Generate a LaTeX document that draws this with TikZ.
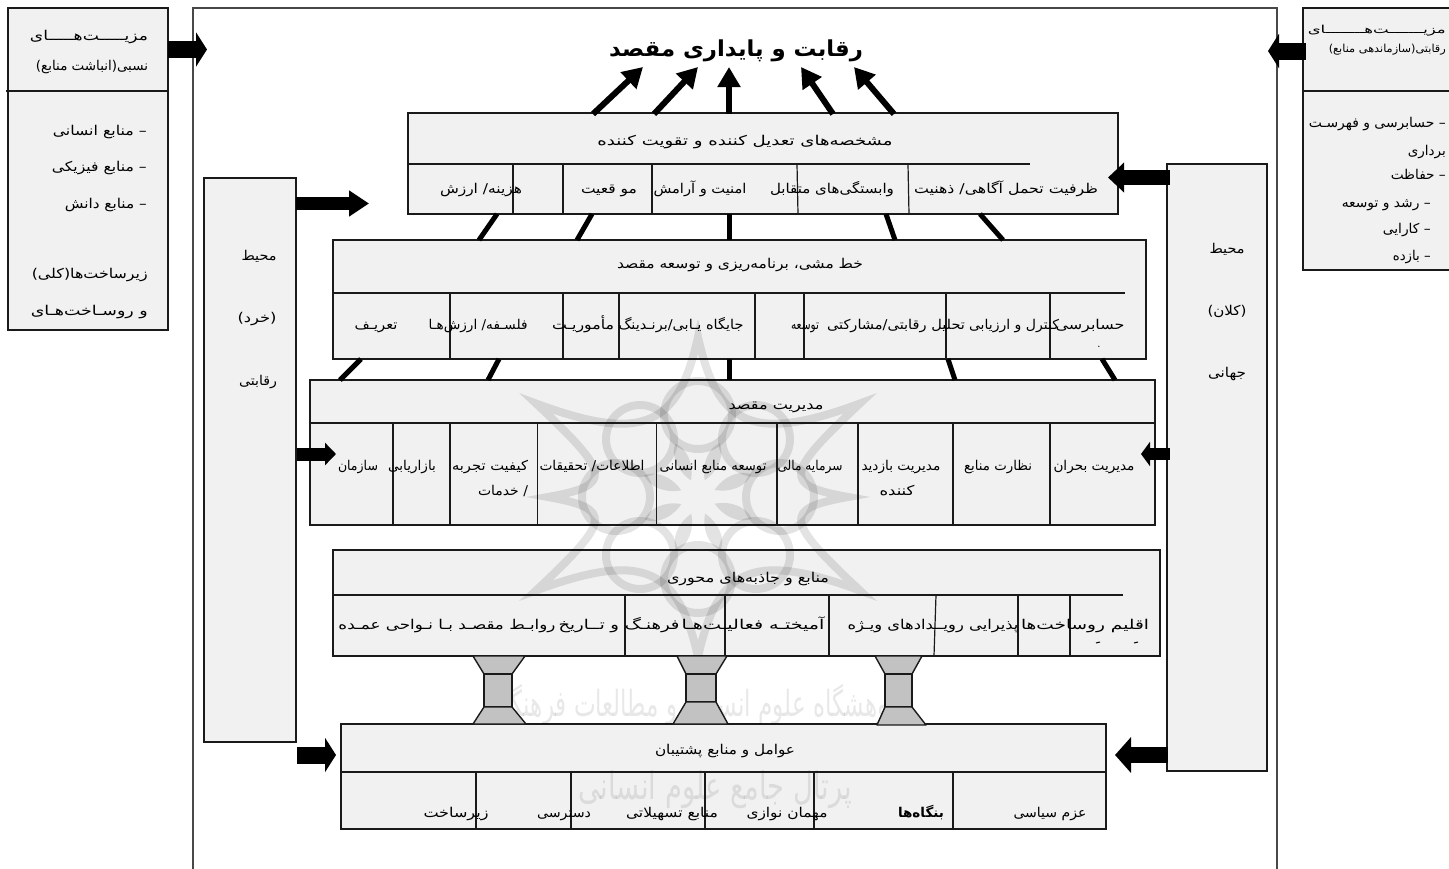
\documentclass[tikz,border=0pt]{standalone}
\usepackage{graphicx}
\usepackage{fontspec}
\usetikzlibrary{arrows.meta}
\TeXXeTstate=1
\newfontfamily\arabicfont[Script=Arabic]{DejaVu Sans}
\newcommand\fit[2]{\resizebox{#1pt}{\height}{#2}}
\newcommand\zn{^^^^200c}
\definecolor{panelfill}{HTML}{F1F1F1}
\definecolor{ink}{HTML}{1A1A1A}
\tikzset{
  panel/.style={draw=ink,line width=1.5pt,fill=panelfill,inner sep=0pt,outer sep=0pt},
  rule/.style={draw=ink,line width=1.5pt},
  col/.style={draw=ink,line width=1.2pt},
  lbl/.style={anchor=base,inner sep=0pt,text=black,font=\fontsize{13.5}{15}\selectfont},
  lblr/.style={anchor=base east,inner sep=0pt,text=black,font=\fontsize{13.5}{15}\selectfont},
  small/.style={font=\fontsize{11}{13}\selectfont},
  link/.style={draw=black,line width=5pt,line cap=butt},
  uparrow/.style={draw=black,line width=6pt,-{Triangle[width=22pt,length=20pt]}},
  blockarrow/.style={draw=black,line width=#1,-{Triangle[width=34pt,length=11pt]}},
  pillar/.style={draw=ink,line width=1.4pt,fill=black!24,line join=round},
}
\begin{document}
\begin{tikzpicture}[x=1pt,y=-1pt]
\path[use as bounding box] (0,0) rectangle (1449,868);
\clip (0,0) rectangle (1449,868);

% frame and panels
\node[draw=ink!80,line width=1.5pt,inner sep=0pt,minimum width=1084pt,minimum height=900pt] (frame) at (735,458) {};
\node[panel,minimum width=160pt,minimum height=322pt] (adv) at (88,169) {};
\node[panel,minimum width=167pt,minimum height=262pt] (comp) at (1386.5,139) {};
\node[panel,minimum width=92pt,minimum height=564pt] (micro) at (250,460) {};
\node[panel,minimum width=100pt,minimum height=607pt] (macro) at (1217,467.5) {};
\node[panel,minimum width=710pt,minimum height=101pt] (A) at (763,163.5) {};
\node[panel,minimum width=813pt,minimum height=119pt] (B) at (739.5,299.5) {};
\node[panel,minimum width=845pt,minimum height=145pt] (C) at (732.5,452.5) {};
\node[panel,minimum width=827pt,minimum height=106pt] (D) at (746.5,603) {};
\node[panel,minimum width=765pt,minimum height=105pt] (E) at (723.5,776.5) {};

% watermark emblem
\begin{scope}[shift={(698,497)},draw=black,opacity=.11,line width=8pt]
  \draw (90:160) .. controls (75:75) and (45:75) .. (30:187)
        .. controls (15:90) and (8:85) .. (0:150)
        .. controls (-8:85) and (-15:90) .. (-30:187)
        .. controls (-45:75) and (-75:75) .. (-90:160)
        .. controls (-105:75) and (-135:75) .. (-150:187)
        .. controls (-165:90) and (-172:85) .. (180:150)
        .. controls (172:85) and (165:90) .. (150:187)
        .. controls (135:75) and (105:75) .. cycle;
  \foreach \a in {0,45,...,315} { \draw (\a:82) circle[radius=34]; }
  \foreach \a in {22,67,...,337} { \fill (\a:18) .. controls (\a+16:34) and (\a+10:50) .. (\a:58) .. controls (\a-10:50) and (\a-16:34) .. (\a:18); }
\end{scope}
\node[opacity=.09,inner sep=0pt,font=\fontsize{36}{38}\selectfont] (wm1) at (700,705) {\scalebox{.64}[1]{\arabicfont\beginR پژوهشگاه علوم انسانی و مطالعات فرهنگی\endR}};
\node[opacity=.09,inner sep=0pt,font=\fontsize{38}{40}\selectfont] (wm2) at (715,790) {\scalebox{.72}[1]{\arabicfont\beginR پرتال جامع علوم انسانی\endR}};

% dividers
\coordinate (advL) at (6,91); \coordinate (advR) at (168,91);
\draw[rule] (advL) -- (advR);
\coordinate (compL) at (1303,91); \coordinate (compR) at (1449,91);
\draw[rule] (compL) -- (compR);
\coordinate (Adl) at (408,164); \coordinate (Adr) at (1030,164);
\draw[rule] (Adl) -- (Adr);
\coordinate (Bdl) at (333,293); \coordinate (Bdr) at (1125,293);
\draw[rule] (Bdl) -- (Bdr);
\coordinate (Cdl) at (310,423); \coordinate (Cdr) at (1155,423);
\draw[rule] (Cdl) -- (Cdr);
\coordinate (Ddl) at (333,595); \coordinate (Ddr) at (1123,595);
\draw[rule] (Ddl) -- (Ddr);
\coordinate (Edl) at (341,772); \coordinate (Edr) at (1106,772);
\draw[rule] (Edl) -- (Edr);

% column lines
\foreach \x/\xx in {513/513,563/563,652/652,797/798,908/909} \draw[col] (\x,164) -- (\xx,214);
\foreach \x in {450,563,619,755,804,946,1050} \draw[col] (\x,293) -- (\x,359);
\foreach \x in {393,450,537.5,656.5,777,858,953,1050} \draw[col] (\x,423) -- (\x,525);
\foreach \x/\xx in {625/625,725/725,829/829,936/934,1018/1018,1070/1070} \draw[col] (\x,595) -- (\xx,656);
\foreach \x in {476,571,705,814,953} \draw[col] (\x,772) -- (\x,829);

% pillars between D and E
\draw[pillar] (473,656) -- (525,656) -- (512,674) -- (484,674) -- cycle;
\draw[pillar] (484,674) rectangle (512,707);
\draw[pillar] (484,707) -- (512,707) -- (526,724) -- (473,724) -- cycle;
\draw[pillar] (677,656) -- (727,656) -- (716,674) -- (686,674) -- cycle;
\draw[pillar] (686,674) rectangle (716,702);
\draw[pillar] (686,702) -- (716,702) -- (728,724) -- (673,724) -- cycle;
\draw[pillar] (875,656) -- (922,656) -- (912,674) -- (885,674) -- cycle;
\draw[pillar] (885,674) rectangle (912,707);
\draw[pillar] (885,707) -- (912,707) -- (926,725) -- (877,725) -- cycle;

% connectors between panels
\coordinate (ab1) at (497,214); \coordinate (ba1) at (479,240);
\coordinate (ab2) at (592,214); \coordinate (ba2) at (577,240);
\coordinate (ab3) at (729,214); \coordinate (ba3) at (729,240);
\coordinate (ab4) at (886,214); \coordinate (ba4) at (895,240);
\coordinate (ab5) at (980,214); \coordinate (ba5) at (1003,240);
\foreach \i in {1,...,5} \draw[link] (ab\i) -- (ba\i);
\coordinate (bc1) at (361,359); \coordinate (cb1) at (340,380);
\coordinate (bc2) at (499,359); \coordinate (cb2) at (488,380);
\coordinate (bc3) at (729,359); \coordinate (cb3) at (729,380);
\coordinate (bc4) at (948,359); \coordinate (cb4) at (955,380);
\coordinate (bc5) at (1102,359); \coordinate (cb5) at (1115,380);
\foreach \i in {1,...,5} \draw[link] (bc\i) -- (cb\i);

% arrows to the title
\node[inner sep=0pt,anchor=base,font=\fontsize{22}{25}\selectfont\bfseries] (title) at (736,56) {\fit{254}{\arabicfont\beginR رقابت و پایداری مقصد\endR}};
\coordinate (t1) at (643,67); \coordinate (a1) at (593,114);
\coordinate (t2) at (698,67); \coordinate (a2) at (654,114);
\coordinate (t3) at (729,67); \coordinate (a3) at (729,114);
\coordinate (t4) at (801,67); \coordinate (a4) at (833,114);
\coordinate (t5) at (854,67); \coordinate (a5) at (894,114);
\foreach \i in {1,...,5} \draw[uparrow] (a\i) -- (t\i);

% block arrows
\coordinate (b1s) at (168,49.5); \coordinate (b1e) at (207,49.5);
\draw[blockarrow=17pt] (b1s) -- (b1e);
\coordinate (b2s) at (1306,51); \coordinate (b2e) at (1268,51);
\draw[blockarrow=17pt] (b2s) -- (b2e);
\coordinate (b3s) at (296,203.5); \coordinate (b3e) at (369,203.5);
\draw[-{Triangle[width=25pt,length=20pt]},line width=13pt] (b3s) -- (b3e);
\coordinate (b4s) at (1170,177.5); \coordinate (b4e) at (1108,177.5);
\draw[-{Triangle[width=29pt,length=16pt]},line width=15pt] (b4s) -- (b4e);
\coordinate (b5s) at (297,454); \coordinate (b5e) at (336,454);
\draw[-{Triangle[width=22pt,length=11pt]},line width=13pt] (b5s) -- (b5e);
\coordinate (b6s) at (1170,454); \coordinate (b6e) at (1141,454);
\draw[-{Triangle[width=24pt,length=9pt]},line width=12pt] (b6s) -- (b6e);
\coordinate (b7s) at (297,755); \coordinate (b7e) at (336,755);
\draw[blockarrow=17pt] (b7s) -- (b7e);
\coordinate (b8s) at (1168,755); \coordinate (b8e) at (1115,755);
\draw[-{Triangle[width=35pt,length=16pt]},line width=16pt] (b8s) -- (b8e);

% left panel texts
\node[lbl] (l1) at (89,40) {\fit{118}{\arabicfont\beginR مزیـــــت\zn هـــــای\endR}};
\node[lbl] (l2) at (92,70) {\fit{112}{\arabicfont\beginR نسبی(انباشت منابع)\endR}};
\node[lblr] (l3) at (147,135) {\fit{94}{\arabicfont\beginR –  منابع انسانی\endR}};
\node[lblr] (l4) at (147,171) {\fit{95}{\arabicfont\beginR – منابع فیزیکی\endR}};
\node[lblr] (l5) at (147,208) {\fit{82}{\arabicfont\beginR – منابع دانش\endR}};
\node[lblr] (l6) at (148,278) {\fit{116}{\arabicfont\beginR زیرساخت\zn ها(کلی)\endR}};
\node[lblr] (l7) at (148,315) {\fit{117}{\arabicfont\beginR و روسـاخت\zn هـای\endR}};

% right panel texts
\node[lblr,small] (r1) at (1446,33) {\fit{138}{\arabicfont\beginR مزیـــــــت\zn هــــــــای\endR}};
\node[lblr,small] (r2) at (1446,52) {\fit{117}{\arabicfont\beginR رقابتی(سازماندهی منابع)\endR}};
\node[lblr] (r3) at (1446,127) {\fit{137}{\arabicfont\beginR – حسابرسی و فهرسـت\endR}};
\node[lblr] (r4) at (1446,155) {\fit{38}{\arabicfont\beginR برداری\endR}};
\node[lblr] (r5) at (1446,179) {\fit{55}{\arabicfont\beginR – حفاظت\endR}};
\node[lblr] (r6) at (1431,207) {\fit{89}{\arabicfont\beginR – رشد و توسعه\endR}};
\node[lblr] (r7) at (1431,233) {\fit{48}{\arabicfont\beginR – کارایی\endR}};
\node[lblr] (r8) at (1431,260) {\fit{38}{\arabicfont\beginR – بازده\endR}};

% micro / macro
\node[lbl] (m1) at (259,260) {\fit{35}{\arabicfont\beginR محیط\endR}};
\node[lbl] (m2) at (257,322) {\fit{39}{\arabicfont\beginR (خرد)\endR}};
\node[lbl] (m3) at (258,385) {\fit{38}{\arabicfont\beginR رقابتی\endR}};
\node[lbl] (g1) at (1227,253) {\fit{35}{\arabicfont\beginR محیط\endR}};
\node[lbl] (g2) at (1227,315) {\fit{39}{\arabicfont\beginR (کلان)\endR}};
\node[lbl] (g3) at (1227,377) {\fit{38}{\arabicfont\beginR جهانی\endR}};

% panel A
\node[lbl] (A0) at (745,145) {\fit{295}{\arabicfont\beginR مشخصه\zn های تعدیل کننده و تقویت کننده\endR}};
\node[lbl] (A1) at (1006,193) {\fit{184}{\arabicfont\beginR ظرفیت تحمل آگاهی/ ذهنیت\endR}};
\node[lbl] (A2) at (832,193) {\fit{124}{\arabicfont\beginR وابستگی\zn های متقابل\endR}};
\node[lbl] (A3) at (700,193) {\fit{93}{\arabicfont\beginR امنیت و آرامش\endR}};
\node[lbl] (A4) at (609,193) {\fit{56}{\arabicfont\beginR مو قعیت\endR}};
\node[lbl] (A5) at (481,193) {\fit{82}{\arabicfont\beginR هزینه/ ارزش\endR}};

% panel B
\node[lbl] (B0) at (740,268) {\fit{246}{\arabicfont\beginR خط مشی، برنامه\zn ریزی و توسعه مقصد\endR}};
\node[lbl] (B1) at (1090,329) {\fit{69}{\arabicfont\beginR حسابرسی\endR}};
\node[lbl] (B1a) at (1099,347) {.};
\node[lbl] (B2) at (1014,329) {\fit{90}{\arabicfont\beginR کنترل و ارزیابی\endR}};
\node[lbl] (B3) at (896,329) {\fit{138}{\arabicfont\beginR تحلیل رقابتی/مشارکتی\endR}};
\node[lbl] (B4) at (805,329) {\fit{28}{\arabicfont\beginR توسعه\endR}};
\node[lbl] (B5) at (681,329) {\fit{125}{\arabicfont\beginR جایگاه یـابی/برنـدینگ\endR}};
\node[lbl] (B6) at (583,329) {\fit{62}{\arabicfont\beginR مأموریـت\endR}};
\node[lbl] (B7) at (478,329) {\fit{99}{\arabicfont\beginR فلسـفه/ ارزش\zn هـا\endR}};
\node[lbl] (B8) at (376,329) {\fit{43}{\arabicfont\beginR تعریـف\endR}};

% panel C
\node[lbl] (C0) at (776,409) {\fit{95}{\arabicfont\beginR مدیریت مقصد\endR}};
\node[lbl] (C1) at (1094,470) {\fit{81}{\arabicfont\beginR مدیریت بحران\endR}};
\node[lbl] (C2) at (998,470) {\fit{68}{\arabicfont\beginR نظارت منابع\endR}};
\node[lbl] (C3) at (901,470) {\fit{79}{\arabicfont\beginR مدیریت بازدید\endR}};
\node[lbl] (C3a) at (897,495) {\fit{35}{\arabicfont\beginR کننده\endR}};
\node[lbl] (C4) at (810,470) {\fit{65}{\arabicfont\beginR سرمایه مالی\endR}};
\node[lbl] (C5) at (713,470) {\fit{107}{\arabicfont\beginR توسعه منابع انسانی\endR}};
\node[lbl] (C6) at (592,470) {\fit{105}{\arabicfont\beginR اطلاعات/ تحقیقات\endR}};
\node[lbl] (C7) at (490,470) {\fit{76}{\arabicfont\beginR کیفیت تجربه\endR}};
\node[lbl] (C7a) at (503,495) {\fit{50}{\arabicfont\beginR / خدمات\endR}};
\node[lbl] (C8) at (412,470) {\fit{48}{\arabicfont\beginR بازاریابی\endR}};
\node[lbl] (C9) at (358,470) {\fit{40}{\arabicfont\beginR سازمان\endR}};

% panel D
\node[lbl] (D0) at (748,582) {\fit{162}{\arabicfont\beginR منابع و جاذبه\zn های محوری\endR}};
\node[lbl] (D1) at (1085,629) {\fit{128}{\arabicfont\beginR اقلیم روساخت\zn ها\endR}};
\node[lbl] (D2) at (933,629) {\fit{171}{\arabicfont\beginR پذیرایی رویــدادهای ویـژه\endR}};
\node[lbl] (D3) at (753,629) {\fit{143}{\arabicfont\beginR آمیختـه فعالیـت\zn هـا\endR}};
\node[lbl] (D4) at (619,629) {\fit{121}{\arabicfont\beginR فرهنـگ و تــاریخ\endR}};
\node[lbl] (D5) at (447,629) {\fit{217}{\arabicfont\beginR روابـط مقصـد بـا نـواحی عمـده\endR}};
\coordinate (dm1) at (1134,643); \coordinate (dm2) at (1138,642);
\coordinate (dm3) at (1096,643); \coordinate (dm4) at (1100,642);
\draw[line width=1pt] (dm1) -- (dm2);
\draw[line width=1pt] (dm3) -- (dm4);

% panel E
\node[lbl] (E0) at (725,754) {\fit{140}{\arabicfont\beginR عوامل و منابع پشتیبان\endR}};
\node[lbl] (E1) at (1050,817) {\fit{73}{\arabicfont\beginR عزم سیاسی\endR}};
\node[lbl,font=\fontsize{13.5}{15}\selectfont\bfseries] (E2) at (921,817) {\fit{46}{\arabicfont\beginR بنگاه\zn ها\endR}};
\node[lbl] (E3) at (787,817) {\fit{81}{\arabicfont\beginR مهمان نوازی\endR}};
\node[lbl] (E4) at (672,817) {\fit{92}{\arabicfont\beginR منابع تسهیلاتی\endR}};
\node[lbl] (E5) at (564,817) {\fit{54}{\arabicfont\beginR دسترسی\endR}};
\node[lbl] (E6) at (456,817) {\fit{65}{\arabicfont\beginR زیرساخت\endR}};
\end{tikzpicture}
\end{document}
